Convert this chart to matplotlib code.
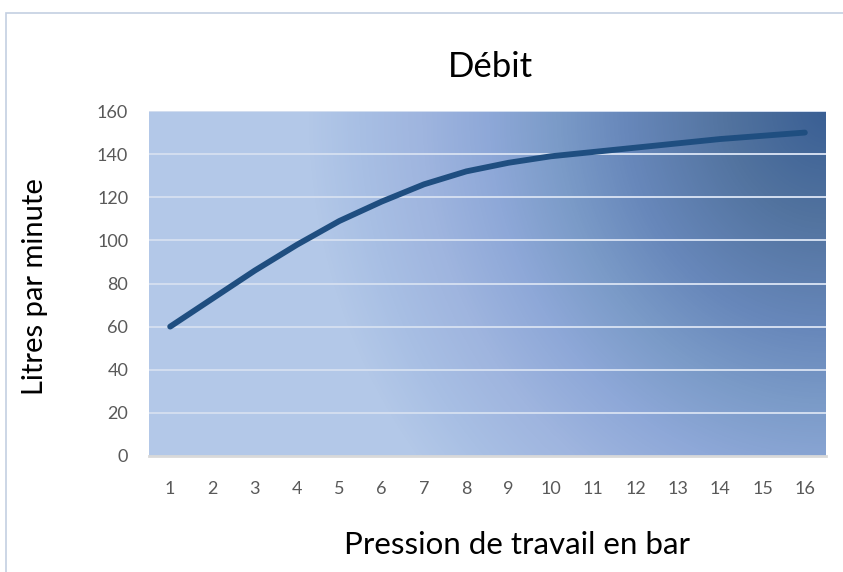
import numpy as np
import matplotlib.pyplot as plt
from matplotlib.colors import LinearSegmentedColormap
from matplotlib.patches import Rectangle

# Données
pression = list(range(1, 17))
debit = [60, 73, 86, 98, 109, 118, 126, 132, 136, 139, 141, 143, 145, 147, 148.5, 150]
yticks = [0, 20, 40, 60, 80, 100, 120, 140, 160]

plt.rcParams['font.family'] = ['Lato', 'DejaVu Sans']

fig = plt.figure(figsize=(8.43, 5.72), dpi=100)
ax = fig.add_axes([149 / 843, 1 - 456 / 572, 677 / 843, 345 / 572])

# cadre du graphique (Excel)
fig.patches.append(Rectangle((6 / 843, -0.1), 1.2, 1 - 13 / 572 + 0.1,
                             transform=fig.transFigure, fill=False,
                             edgecolor='#c3cfe2', linewidth=1.2))

# fond en dégradé radial depuis le coin haut droit (en pixels)
nx, ny = 677, 345
px, py = np.meshgrid(np.arange(nx), np.arange(ny))
# py = 0 en bas (origin='lower')
d = np.sqrt((nx - px) ** 2 + ((ny - py) * 0.92) ** 2)
t = np.clip(1 - d / 520, 0, 1)
stops = [(0, '#b3c8e8'), (0.1, '#a8bfe4'), (0.22, '#9fb5df'), (0.35, '#8ea8d8'),
         (0.48, '#7b9bc8'), (0.61, '#6888bb'), (0.81, '#52739f'), (1, '#3a5f94')]
cmap = LinearSegmentedColormap.from_list('fond', stops)
ax.imshow(t, cmap=cmap, vmin=0, vmax=1, extent=[0.5, 16.5, 0, 160], origin='lower',
          aspect='auto', zorder=0, interpolation='bilinear')

for v in yticks[1:]:
    ax.axhline(v, color='#d3def0', linewidth=1.4, zorder=1)

ax.plot(pression, debit, color='#1f4e80', linewidth=4.2,
        solid_capstyle='round', solid_joinstyle='round', zorder=3)

ax.set_xlim(0.5, 16.5)
ax.set_ylim(0, 160)
ax.set_xticks(pression)
ax.set_yticks(yticks)
ax.tick_params(length=0, labelsize=13, labelcolor='#595959')
ax.tick_params(axis='x', pad=18)
ax.tick_params(axis='y', pad=15)
for s in ['top', 'right', 'left']:
    ax.spines[s].set_visible(False)
ax.spines['bottom'].set_color('#d9d9d9')
ax.spines['bottom'].set_linewidth(2)
ax.spines['bottom'].set_zorder(4)

fig.text(490 / 843, 1 - 67 / 572, 'Débit', ha='center', va='center', fontsize=25)
fig.text(35 / 843, 1 - 287 / 572, 'Litres par minute', ha='center', va='center',
         rotation=90, fontsize=21)
fig.text(517 / 843, 1 - 545 / 572, 'Pression de travail en bar', ha='center',
         va='center', fontsize=22.5)

fig.savefig('out.png', dpi=100)
